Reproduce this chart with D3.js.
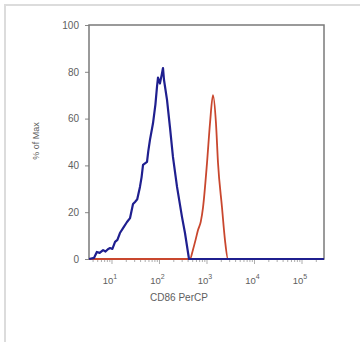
<!DOCTYPE html>
<html><head><meta charset="utf-8">
<script src="https://cdn.jsdelivr.net/npm/d3@7"></script>
<style>
html,body{margin:0;padding:0;background:#fff;}
svg{display:block;font-family:"Liberation Sans",Arial,sans-serif;}
</style></head>
<body>
<svg id="c" width="360" height="342"></svg>
<script>
// Intensity (CD86 PerCP) and % of Max for each histogram
const blueX = [3.3, 4.2, 4.8, 5.5, 6.5, 7.3, 8.2, 9.1, 10.2, 11.6, 13, 14.7, 17.5, 20.7, 24, 27.7, 30.5, 34, 38.8, 42, 45, 54.6, 58, 63, 73, 82, 88.5, 93, 102, 112, 118.5, 124.5, 144, 166, 192, 234, 298, 344, 418, 290000];
const blueY = [0, 0.5, 3, 2.6, 3.8, 3.2, 4.2, 4.7, 4.3, 7.3, 8.2, 11.1, 13.5, 15.8, 17.5, 23.5, 24.4, 25.5, 30.8, 35, 40.2, 41.5, 46, 50.9, 58, 66, 73.5, 77.5, 75, 79, 81.6, 76.5, 68, 56.4, 43.6, 30.8, 17.9, 11.1, 0, 0];
const redX = [3.3, 438, 507, 580, 647, 740, 824, 1000, 1157, 1337, 1545, 1706, 2070, 2394, 2767, 290000];
const redY = [0, 0, 4, 8.5, 12.4, 16, 22, 41, 58, 70, 58, 41, 22, 8, 0, 0];
const yTicks = [0, 20, 40, 60, 80, 100];
const xDecades = [1, 2, 3, 4, 5];
const xLabel = "CD86 PerCP";
const yLabel = "% of Max";

const svg = d3.select("#c");
// outer light frame
svg.append("path").attr("d", "M5,342V5H360").attr("fill", "none").attr("stroke", "#dcdcdc").attr("stroke-width", 2);

const L = 89, R = 324, T = 25, B = 259;
const x = d3.scaleLog().domain([Math.pow(10, 0.516), Math.pow(10, 5.463)]).range([L, R]);
const y = d3.scaleLinear().domain([0, 100]).range([B, T]);

// y ticks
const yAxis = d3.axisLeft(y).tickValues(yTicks).tickSize(4).tickPadding(6).tickFormat(d3.format("d"));
const gy = svg.append("g").attr("transform", `translate(${L},0)`).call(yAxis);
gy.select(".domain").remove();
gy.selectAll("line").attr("stroke", "#888");
gy.selectAll("text").attr("fill", "#5e5e5e").attr("font-size", 10);

// x minor/major ticks
const minor = [];
for (let e = 0; e <= 5; e++) for (let m = 1; m <= 9; m++) {
  const v = m * Math.pow(10, e);
  if (v >= x.domain()[0] && v <= x.domain()[1]) minor.push(v);
}
svg.append("g").selectAll("line").data(minor).join("line")
  .attr("x1", d => x(d)).attr("x2", d => x(d))
  .attr("y1", B).attr("y2", d => B + (Math.log10(d) % 1 === 0 ? 5 : 3))
  .attr("stroke", "#999").attr("stroke-width", 0.8);

const xl = svg.append("g").selectAll("text").data(xDecades).join("text")
  .attr("x", d => x(Math.pow(10, d)) - 2).attr("y", 284)
  .attr("text-anchor", "middle").attr("fill", "#5e5e5e").attr("font-size", 9.5);
xl.append("tspan").text("10");
xl.append("tspan").attr("dy", -5).attr("font-size", 7).text(d => d);

svg.append("text").attr("x", 179).attr("y", 301).attr("text-anchor", "middle")
  .attr("fill", "#5e5e5e").attr("font-size", 10).text(xLabel);
svg.append("text").attr("transform", "translate(39,141) rotate(-90)").attr("text-anchor", "middle")
  .attr("fill", "#5e5e5e").attr("font-size", 9).text(yLabel);

// frame
svg.append("rect").attr("x", L).attr("y", T).attr("width", R - L).attr("height", B - T)
  .attr("fill", "none").attr("stroke", "#7a7a7a").attr("stroke-width", 1.5);

const line = d3.line().x(d => x(d[0])).y(d => y(d[1]));
svg.append("path").datum(redX.map((v, i) => [v, redY[i]]))
  .attr("d", line.curve(d3.curveMonotoneX)).attr("fill", "none")
  .attr("stroke", "#c9472e").attr("stroke-width", 1.8).attr("stroke-linejoin", "round");
svg.append("path").datum(blueX.map((v, i) => [v, blueY[i]]))
  .attr("d", d3.line().x(d => x(d[0])).y(d => y(d[1]))).attr("fill", "none")
  .attr("stroke", "#1f1f8f").attr("stroke-width", 2.2).attr("stroke-linejoin", "round");
</script>
</body></html>
